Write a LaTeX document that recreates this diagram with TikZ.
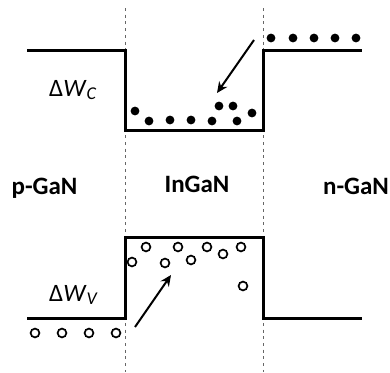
\documentclass[tikz,border=0pt]{standalone}
\usepackage{fontspec}
\setmainfont{Carlito}
\usetikzlibrary{arrows.meta}

\tikzset{
  band/.style={line width=3pt, line join=miter},
  interface/.style={black!60, line width=1pt, dash pattern=on 3pt off 3.7pt},
  electron/.style={fill=black},
  hole/.style={draw=black, line width=1.7pt, fill=white},
  hop/.style={-{Stealth[length=11pt, width=10pt]}, line width=2pt},
  region/.style={font=\fontsize{25}{30}\selectfont\bfseries, inner sep=0pt},
  offset/.style={font=\fontsize{25}{30}\selectfont, inner sep=0pt, anchor=base west}
}
\newcommand{\bandoffset}[1]{Δ\textit{W}\raisebox{-0.3ex}{\fontsize{18}{18}\selectfont\itshape #1}}

\begin{document}
\begin{tikzpicture}[x=1pt, y=-1pt]
\def\xL{27}
\def\xA{125}
\def\xB{263}
\def\xR{362}
\def\dotrad{4.4}
\useasboundingbox (0,0) rectangle (390,372);

% interfaces
\coordinate (Atop) at (\xA,8);
\coordinate (Abot) at (\xA,372);
\coordinate (Btop) at (\xB,8);
\coordinate (Bbot) at (\xB,372);
\draw[interface] (Atop) -- (Abot);
\draw[interface] (Btop) -- (Bbot);

% conduction band
\draw[band] (\xL,50) -- (\xA,50) -- (\xA,130) -- (\xB,130) -- (\xB,50) -- (\xR,50);
% valence band
\draw[band] (\xL,318) -- (\xA,318) -- (\xA,237) -- (\xB,237) -- (\xB,318) -- (\xR,318);

% electrons
\foreach \x in {271,293,314,335,356}
  \fill[electron] (\x,38) circle (\dotrad);
\foreach \x/\y in {135/111, 149/121, 170/120, 191/120, 212/121, 219/106, 233/106, 237/121, 252/113}
  \fill[electron] (\x,\y) circle (\dotrad);

% holes
\foreach \x in {35,62,89,116}
  \draw[hole] (\x,333) circle (\dotrad);
\foreach \x/\y in {132/262, 146/247, 165/263, 178/247, 191/260, 207/247, 223/254, 241/247, 243/286}
  \draw[hole] (\x,\y) circle (\dotrad);

% capture arrows
\coordinate (eStart) at (254,40);
\coordinate (eEnd) at (217,93);
\coordinate (hStart) at (135,327);
\coordinate (hEnd) at (171,275);
\draw[hop] (eStart) -- (eEnd);
\draw[hop] (hStart) -- (hEnd);

% labels
\node[region, anchor=base] (pgan) at (44.5,194) {p-GaN};
\node[region, anchor=base] (ingan) at (197,192) {InGaN};
\node[region, anchor=base] (ngan) at (356,194) {n-GaN};
\node[offset] (dwc) at (49,96) {\bandoffset{C}};
\node[offset] (dwv) at (49,301) {\bandoffset{V}};
\end{tikzpicture}
\end{document}
